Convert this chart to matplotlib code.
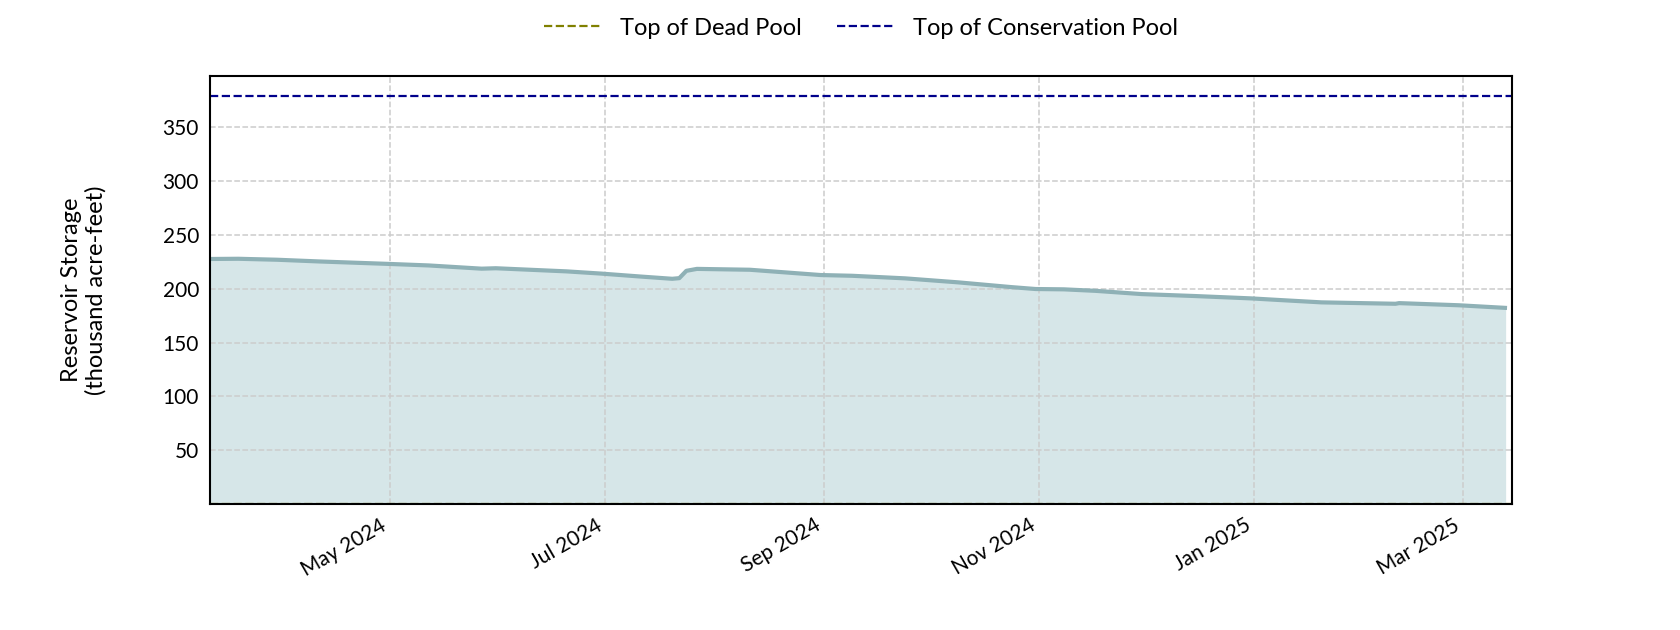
import matplotlib
matplotlib.use('Agg')
import matplotlib.pyplot as plt
import matplotlib.dates as mdates
import pandas as pd

plt.rcParams['font.family'] = ['Lato', 'DejaVu Sans']

# storage readings (thousand acre-feet)
dates = pd.to_datetime([
    '2024-03-11', '2024-03-19', '2024-03-30', '2024-04-11', '2024-04-30',
    '2024-05-12', '2024-05-27', '2024-05-31', '2024-06-11', '2024-06-20',
    '2024-06-30', '2024-07-11', '2024-07-20', '2024-07-22', '2024-07-24',
    '2024-07-27', '2024-08-11', '2024-08-31', '2024-09-09', '2024-09-24',
    '2024-10-09', '2024-10-24', '2024-10-31', '2024-11-08', '2024-11-17',
    '2024-11-30', '2024-12-15', '2024-12-31', '2025-01-08', '2025-01-20',
    '2025-02-10', '2025-02-11', '2025-02-28', '2025-03-13',
])
storage = [
    227.6, 227.8, 226.9, 225.3, 223.1,
    221.6, 218.6, 219.0, 217.4, 216.1,
    214.0, 211.3, 209.2, 209.8, 216.6,
    218.4, 217.6, 212.7, 212.0, 209.6,
    205.9, 201.5, 199.7, 199.4, 198.0,
    195.0, 193.2, 191.0, 189.5, 187.3,
    186.0, 186.6, 184.6, 182.2,
]
dead_pool = 0.0
conservation_pool = 379.0
y_ticks = [50, 100, 150, 200, 250, 300, 350]

fig, ax = plt.subplots(figsize=(16.8, 6.3), dpi=100)

ax.fill_between(dates, storage, 0, color='#d6e6e8', zorder=1)
ax.plot(dates, storage, color='#8fb1b6', linewidth=3, zorder=2)

ax.axhline(dead_pool, color='#808000', linestyle='--', linewidth=1.6,
           label='Top of Dead Pool', zorder=3)
ax.axhline(conservation_pool, color='#00008b', linestyle='--', linewidth=1.6,
           label='Top of Conservation Pool', zorder=3)

ax.set_ylim(0, conservation_pool * 1.05)
ax.set_xlim(dates[0], pd.Timestamp('2025-03-15'))
ax.set_yticks(y_ticks)
ax.xaxis.set_major_locator(mdates.MonthLocator(bymonth=[1, 3, 5, 7, 9, 11]))
ax.xaxis.set_major_formatter(mdates.DateFormatter('%b %Y'))

ax.grid(True, linestyle='--', color='#cccccc', linewidth=1.1)
ax.tick_params(length=0, labelsize=15, pad=8)
for s in ax.spines.values():
    s.set_linewidth(1.5)
    s.set_zorder(5)

ax.set_ylabel('Reservoir Storage\n(thousand acre-feet)', fontsize=17, labelpad=40)

fig.autofmt_xdate(rotation=30, ha='right')
fig.subplots_adjust(left=0.125, right=0.9, top=0.88, bottom=0.2)

ax.legend(loc='upper center', bbox_to_anchor=(0.5, 1.185), ncol=2,
          frameon=False, fontsize=17, handlelength=2.4, columnspacing=1.5)

fig.savefig('out.png', dpi=100)
